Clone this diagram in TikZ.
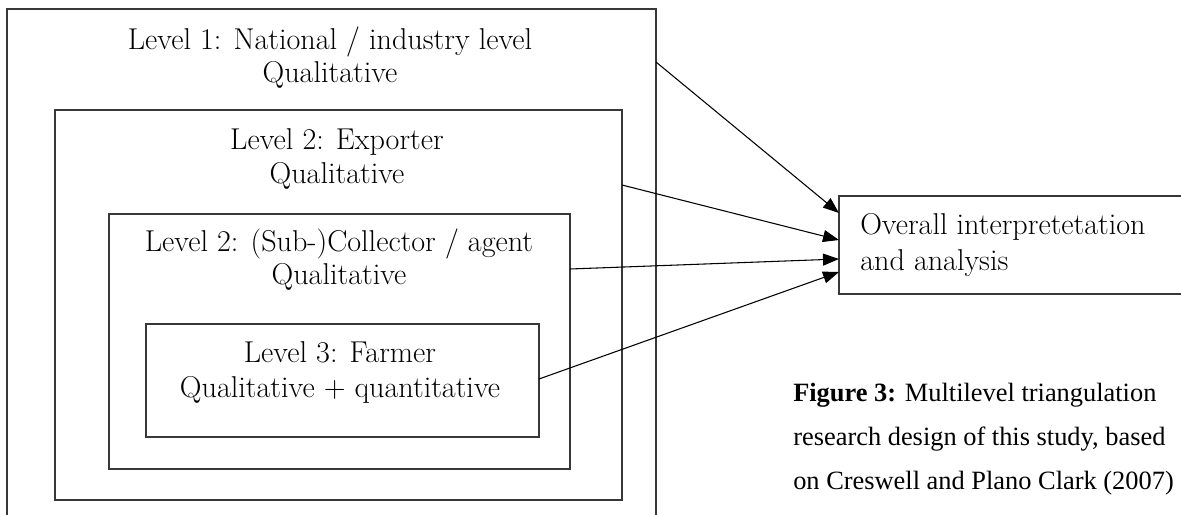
\documentclass[tikz,border=0pt]{standalone}
\usepackage{fontspec}
\newfontfamily\capfont{Liberation Serif}
\usetikzlibrary{arrows.meta,calc}
\begin{document}
\begin{tikzpicture}[x=0.75pt,y=-0.75pt,
  levelbox/.style={draw=black!78,line width=1.1pt,inner sep=0pt},
  boxtext/.style={anchor=base,inner sep=0pt,font=\fontsize{22.6}{26}\selectfont},
  captext/.style={anchor=base west,inner sep=0pt,font=\capfont\fontsize{19.8}{24}\selectfont},
  link/.style={line width=0.8pt,-{Triangle[length=12pt,width=9pt]}}]
\useasboundingbox (0,0) rectangle (1181,514);
\clip (0,0) rectangle (1181,514);

% nested level boxes
\draw[levelbox] (7,9) rectangle (656,540);
\draw[levelbox] (55,110) rectangle (622,500);
\draw[levelbox] (109,214) rectangle (570,469);
\draw[levelbox] (146,324) rectangle (539,437);
\draw[levelbox] (839,196) rectangle (1186,294);

% named anchors on the box edges
\coordinate (s1) at (656,62);
\coordinate (s2) at (622,185);
\coordinate (s3) at (570,269);
\coordinate (s4) at (539,379);
\coordinate (t1) at (839,213);
\coordinate (t2) at (839,240);
\coordinate (t3) at (839,259);
\coordinate (t4) at (839,272);

% labels
\node[boxtext] (l1a) at (330,49) {Level 1: National / industry level};
\node[boxtext] (l1b) at (330,82) {Qualitative};
\node[boxtext] (l2a) at (337,149) {Level 2: Exporter};
\node[boxtext] (l2b) at (337,183) {Qualitative};
\node[boxtext] (l3a) at (339,251) {Level 2: (Sub-)Collector / agent};
\node[boxtext] (l3b) at (339,284) {Qualitative};
\node[boxtext] (l4a) at (340,362) {Level 3: Farmer};
\node[boxtext] (l4b) at (340,397) {Qualitative + quantitative};
\node[boxtext,anchor=base west] (o1) at (860,234) {Overall interpretetation};
\node[boxtext,anchor=base west] (o2) at (860,270) {and analysis};

% caption
\node[captext] (c1) at (793,401) {\textbf{Figure 3:} Multilevel triangulation};
\node[captext] (c2) at (793,445) {research design of this study, based};
\node[captext] (c3) at (793,489) {on Creswell and Plano Clark (2007)};

% connectors
\draw[link] (s1) -- (t1);
\draw[link] (s2) -- (t2);
\draw[link] (s3) -- (t3);
\draw[link] (s4) -- (t4);
\end{tikzpicture}
\end{document}
